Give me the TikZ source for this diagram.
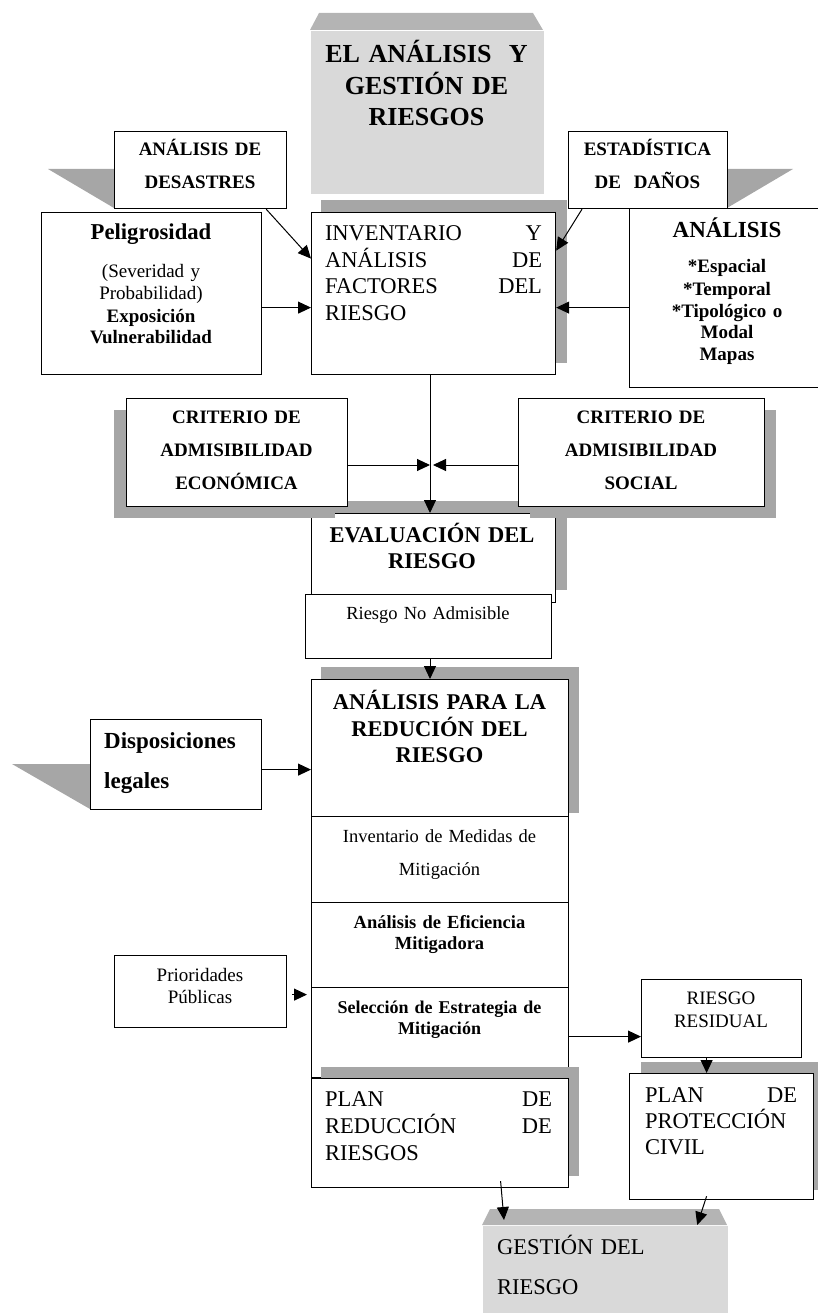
\documentclass[tikz,border=0pt]{standalone}
\usepackage{fontspec}
\setmainfont{Liberation Serif}
\usetikzlibrary{arrows.meta,calc}
\definecolor{rsgray}{RGB}{166,166,166}
\definecolor{rstop}{RGB}{180,180,180}
\definecolor{rslight}{RGB}{217,217,217}

\begin{document}
\begin{tikzpicture}[x=1pt,y=-1pt,
  box/.style={draw, fill=white, line width=1.2pt, inner sep=0pt, anchor=north west},
  txt/.style={inner sep=0pt, anchor=base, align=center},
  bigb/.style={font=\bfseries\fontsize{22.5}{26.5}\selectfont},
  bigr/.style={font=\fontsize{22.5}{26.7}\selectfont},
  smb/.style={font=\bfseries\fontsize{19}{33}\selectfont},
  smr/.style={font=\fontsize{18.5}{22}\selectfont},
  arr/.style={-{Triangle[length=13pt,width=12pt]}, line width=1pt}]
  \useasboundingbox (0,0) rectangle (817,1313);

  \fill[rstop] (319,13) -- (533,13) -- (543,30) -- (310,30) -- cycle;
  \node[box, draw=none, fill=rslight, minimum width=233pt, minimum height=163pt] (titulo) at (310,30) {};
  \node[txt, text width=233pt, font=\bfseries\fontsize{26}{31.5}\selectfont] (titulo-t) at (426.5,63) {EL ANÁLISIS\ \ Y\\GESTIÓN DE\\RIESGOS};

  \fill[rsgray] (48,169) -- (114,169) -- (114,208) -- cycle;
  \fill[rsgray] (727,169) -- (793,169) -- (727,208) -- cycle;
  \node[box, minimum width=172pt, minimum height=77pt] (desastres) at (114,131) {};
  \node[txt, smb, text width=172pt] (desastres-t) at (200,156) {ANÁLISIS DE\\DESASTRES};
  \node[box, minimum width=159pt, minimum height=77pt] (estad) at (568,131) {};
  \node[txt, smb, text width=159pt] (estad-t) at (647.5,156) {ESTADÍSTICA\\DE\ \ DAÑOS};

  \fill[rsgray] (321,200) rectangle (567,363);
  \node[box, minimum width=244pt, minimum height=162pt] (inv) at (311,212) {};
  \node[txt, bigr, text width=217pt, align=left] (inv-t) at (433.5,240.5)
    {INVENTARIO\hfill Y\\ANÁLISIS\hfill DE\\FACTORES\hfill DEL\\RIESGO};

  \node[box, minimum width=220pt, minimum height=162pt] (pelig) at (41,212) {};
  \node[txt, text width=220pt, font=\bfseries\fontsize{22.7}{26}\selectfont] (pelig-t) at (151,240) {Peligrosidad};
  \node[txt, text width=220pt, font=\fontsize{19}{22}\selectfont] (pelig-s) at (151,278)
    {(Severidad y\\Probabilidad)\\\textbf{Exposición}\\\textbf{Vulnerabilidad}};

  \node[box, minimum width=196pt, minimum height=179pt] (anal) at (629,208) {};
  \node[txt, text width=196pt, font=\bfseries\fontsize{23}{26}\selectfont] (anal-t) at (727,237.5) {ANÁLISIS};
  \node[txt, text width=196pt, font=\bfseries\fontsize{19}{22}\selectfont] (anal-s) at (727,273)
    {*Espacial\\{}*Temporal\\{}*Tipológico o\\Modal\\Mapas};

  \fill[rsgray] (323,501) rectangle (567,590);
  \node[box, minimum width=244pt, minimum height=89pt] (eval) at (311,513) {};
  \node[txt, text width=244pt, font=\bfseries\fontsize{22.5}{26}\selectfont] (eval-t) at (432,542.5) {EVALUACIÓN DEL\\RIESGO};

  \fill[rsgray] (114,410) rectangle (335,518);
  \fill[rsgray] (530,410) rectangle (776,518);
  \node[box, minimum width=221pt, minimum height=108pt] (critE) at (126,398) {};
  \node[txt, smb, text width=221pt] (critE-t) at (236.5,423) {CRITERIO DE\\ADMISIBILIDAD\\ECONÓMICA};
  \node[box, minimum width=246pt, minimum height=108pt] (critS) at (518,398) {};
  \node[txt, smb, text width=246pt] (critS-t) at (641,423) {CRITERIO DE\\ADMISIBILIDAD\\SOCIAL};

  \node[box, minimum width=246pt, minimum height=64pt] (rna) at (305,594) {};
  \node[txt, smr, text width=246pt] (rna-t) at (428,619) {Riesgo No Admisible};

  \fill[rsgray] (321,667) rectangle (579,813);
  \node[box, minimum width=257pt, minimum height=137pt] (red) at (311,679) {};
  \node[txt, bigb, text width=257pt] (red-t) at (439.5,709.5) {ANÁLISIS PARA LA\\REDUCIÓN DEL\\RIESGO};

  \fill[rsgray] (12,764) -- (90,764) -- (90,809) -- cycle;
  \node[box, minimum width=171pt, minimum height=90pt] (disp) at (90,719) {};
  \node[txt, anchor=base west, align=left, text width=160pt, font=\bfseries\fontsize{23}{40}\selectfont] (disp-t) at (104,748) {Disposiciones\\legales};

  \node[box, minimum width=257pt, minimum height=86pt] (medidas) at (311,816) {};
  \node[txt, text width=257pt, font=\fontsize{18.5}{33}\selectfont] (medidas-t) at (439.5,842) {Inventario de Medidas de\\Mitigación};
  \node[box, minimum width=257pt, minimum height=85pt] (efic) at (311,902) {};
  \node[txt, text width=257pt, font=\bfseries\fontsize{18.5}{21.5}\selectfont] (efic-t) at (439.5,928) {Análisis de Eficiencia\\Mitigadora};
  \node[box, minimum width=257pt, minimum height=90pt] (selec) at (311,987) {};
  \node[txt, text width=257pt, font=\bfseries\fontsize{18}{21}\selectfont] (selec-t) at (439.5,1013) {Selección de Estrategia de\\Mitigación};

  \node[box, minimum width=172pt, minimum height=72pt] (prior) at (114,955) {};
  \node[txt, text width=172pt, font=\fontsize{19}{22}\selectfont] (prior-t) at (200,981) {Prioridades\\Públicas};

  \node[box, minimum width=160pt, minimum height=78pt] (resid) at (641,979) {};
  \node[txt, text width=160pt, font=\fontsize{19}{23}\selectfont] (resid-t) at (721,1004) {RIESGO\\RESIDUAL};

  \fill[rsgray] (321,1067) rectangle (579,1176);
  \node[box, minimum width=257pt, minimum height=109pt] (planr) at (311,1078) {};
  \node[txt, text width=227pt, align=left, font=\fontsize{22.5}{27}\selectfont] (planr-t) at (438.5,1106.5)
    {PLAN\hfill DE\\REDUCCIÓN\hfill DE\\RIESGOS};

  \fill[rsgray] (641,1062) rectangle (830,1190);
  \node[box, minimum width=184pt, minimum height=126pt] (planp) at (629,1073) {};
  \node[txt, text width=152pt, align=left, font=\fontsize{22.5}{26}\selectfont] (planp-t) at (721,1102.5)
    {PLAN\hfill DE\\PROTECCIÓN\\CIVIL};

  \fill[rstop] (490,1209) -- (719,1209) -- (727,1225) -- (482,1225) -- cycle;
  \node[box, draw=none, fill=rslight, minimum width=245pt, minimum height=95pt] (gest) at (482,1225) {};
  \node[txt, anchor=base west, align=left, text width=200pt, font=\fontsize{22.5}{40}\selectfont] (gest-t) at (497,1254.5) {GESTIÓN DEL\\RIESGO};

  \coordinate (m) at (430,465);
  \draw[arr] ([xshift=-21pt]desastres.south east) -- ([yshift=35pt]inv.west);
  \draw[arr] ([xshift=14pt]estad.south west) -- ([yshift=43pt]inv.east);
  \draw[arr] ([yshift=-14pt]pelig.east) -- ([yshift=-14pt]inv.west);
  \draw[arr] ([yshift=-9.5pt]anal.west) -- ([yshift=-14pt]inv.east);
  \draw[arr] (critE.east |- m) -- (m);
  \draw[arr] (critS.west |- m) -- ([xshift=3pt]m);
  \draw[arr] (inv.south -| m) -- (eval.north -| m);
  \draw[arr] (rna.south -| m) -- (red.north -| m);
  \draw[arr] ([yshift=-5pt]disp.east) -- ([yshift=-5pt]disp.east -| red.west);
  \draw[arr, shorten <=5pt, shorten >=4pt] ([yshift=-3pt]prior.east) -- ([yshift=-3pt]prior.east -| selec.west);
  \draw[arr] ([yshift=-4pt]selec.east) -- ([yshift=-4pt]selec.east -| resid.west);
  \draw[arr] ([xshift=-15pt]resid.south) -- ([xshift=-15pt]resid.south |- planp.north);
  \draw[arr] ([xshift=60.5pt,yshift=7pt]planr.south) -- ([xshift=22pt,yshift=5pt]gest.north west);
  \draw[arr] ([xshift=-15pt,yshift=4pt]planp.south) -- ([xshift=-31pt]gest.north east);
\end{tikzpicture}
\end{document}
